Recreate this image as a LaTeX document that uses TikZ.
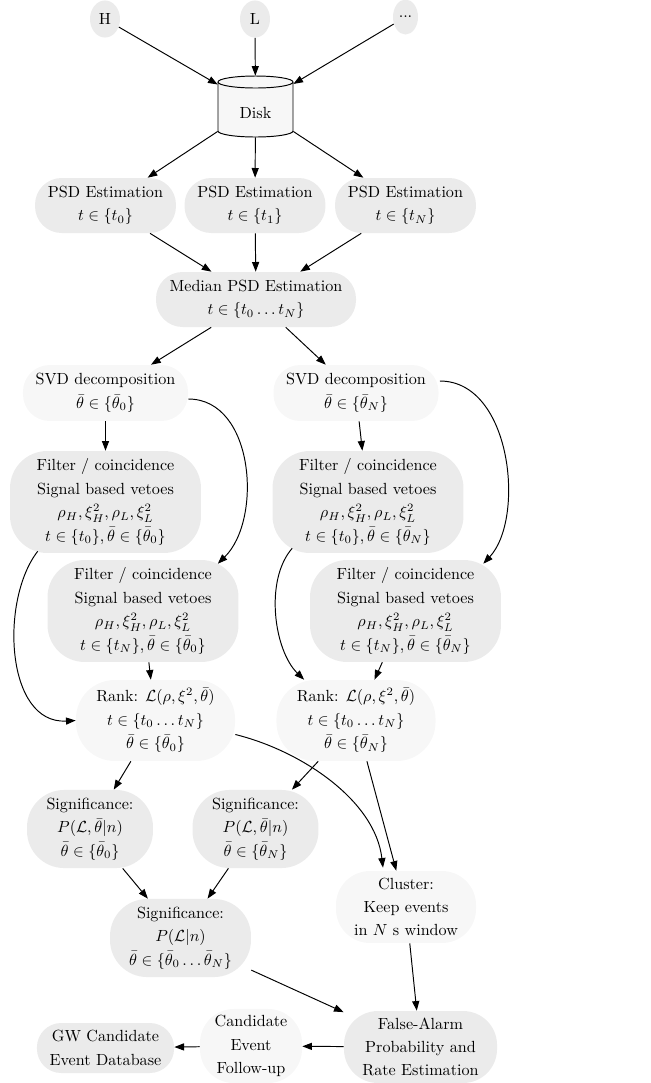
\documentclass[tikz,border=0pt]{standalone}
\usetikzlibrary{arrows.meta,shapes.geometric}
\definecolor{gfill}{HTML}{EBEBEB}
\definecolor{lfill}{HTML}{F7F7F7}
\begin{document}
\begin{tikzpicture}[x=0.62pt,y=0.62pt,
  font=\fontsize{10}{14.5}\selectfont,
  base/.style={inner sep=0pt,align=center},
  ell/.style={base,ellipse,fill=gfill,minimum width=18.6pt,minimum height=23pt},
  gbox/.style={base,rectangle,fill=gfill},
  lbox/.style={base,rectangle,fill=lfill},
  arr/.style={-{Triangle[length=6pt,width=4.4pt]},line width=0.6pt},
  psd/.style={gbox,minimum width=87.4pt,minimum height=34.1pt,rounded corners=16.5pt},
  svd/.style={lbox,minimum width=102.3pt,minimum height=34.7pt,rounded corners=16.5pt},
  filt/.style={gbox,minimum width=118.4pt,minimum height=63.2pt,rounded corners=23pt},
  rank/.style={lbox,minimum width=98.6pt,minimum height=50.2pt,rounded corners=24pt},
  sig/.style={gbox,minimum width=78.1pt,minimum height=48.4pt,rounded corners=23pt}
]
\useasboundingbox (0,0) rectangle (651,-1083);

% sources
\node[ell] (H) at (105,-19) {H};
\node[ell] (L) at (255,-19) {L};
\node[ell,minimum width=15.5pt,minimum height=21.7pt] (D) at (405.5,-17) {...};

% disk
\draw[line width=0.6pt,fill=lfill] (218,-82) -- (218,-131)
  arc[start angle=180,end angle=360,x radius=37.5,y radius=6] -- (293,-82)
  arc[start angle=0,end angle=180,x radius=37.5,y radius=6] -- cycle;
\draw[line width=0.6pt] (218,-82) arc[start angle=180,end angle=360,x radius=37.5,y radius=6];
\node[base,minimum width=46.5pt,minimum height=37.8pt,text height=14.8pt,text depth=0pt] (disk) at (255.5,-106.5) {Disk};

% PSD
\node[psd] (P0) at (105.5,-205.5) {PSD Estimation\\$t\in\{t_0\}$};
\node[psd] (P1) at (255,-205.5) {PSD Estimation\\$t\in\{t_1\}$};
\node[psd] (PN) at (405.5,-205.5) {PSD Estimation\\$t\in\{t_N\}$};
\node[psd,minimum width=124pt] (M) at (256,-299.5) {Median PSD Estimation\\$t\in\{t_0\ldots t_N\}$};

% SVD
\node[svd] (S0) at (105.5,-393) {SVD decomposition\\$\bar\theta\in\{\bar\theta_0\}$};
\node[svd] (SN) at (356,-393) {SVD decomposition\\$\bar\theta\in\{\bar\theta_N\}$};

% Filters
\node[filt] (F01) at (105.5,-502) {Filter / coincidence\\Signal based vetoes\\$\rho_H,\xi^2_H,\rho_L,\xi^2_L$\\$t\in\{t_0\},\bar\theta\in\{\bar\theta_0\}$};
\node[filt] (FN1) at (368,-502) {Filter / coincidence\\Signal based vetoes\\$\rho_H,\xi^2_H,\rho_L,\xi^2_L$\\$t\in\{t_0\},\bar\theta\in\{\bar\theta_N\}$};
\node[filt] (F0N) at (143,-611) {Filter / coincidence\\Signal based vetoes\\$\rho_H,\xi^2_H,\rho_L,\xi^2_L$\\$t\in\{t_N\},\bar\theta\in\{\bar\theta_0\}$};
\node[filt] (FNN) at (405.5,-611) {Filter / coincidence\\Signal based vetoes\\$\rho_H,\xi^2_H,\rho_L,\xi^2_L$\\$t\in\{t_N\},\bar\theta\in\{\bar\theta_N\}$};

% Rank
\node[rank] (R0) at (155.5,-720.5) {Rank: $\mathcal{L}(\rho,\xi^2,\bar\theta)$\\$t\in\{t_0\ldots t_N\}$\\$\bar\theta\in\{\bar\theta_0\}$};
\node[rank] (RN) at (356,-720.5) {Rank: $\mathcal{L}(\rho,\xi^2,\bar\theta)$\\$t\in\{t_0\ldots t_N\}$\\$\bar\theta\in\{\bar\theta_N\}$};

% Significance
\node[sig] (G0) at (90,-829) {Significance:\\$P(\mathcal{L},\bar\theta|n)$\\$\bar\theta\in\{\bar\theta_0\}$};
\node[sig] (GN) at (255.5,-829) {Significance:\\$P(\mathcal{L},\bar\theta|n)$\\$\bar\theta\in\{\bar\theta_N\}$};
\node[sig,minimum width=87.4pt] (GA) at (180.5,-938) {Significance:\\$P(\mathcal{L}|n)$\\$\bar\theta\in\{\bar\theta_0\ldots\bar\theta_N\}$};

% Cluster etc.
\node[lbox,minimum width=86.8pt,minimum height=44.6pt,rounded corners=21pt] (C) at (406,-907) {Cluster:\\Keep events\\in $N$ s window};
\node[gbox,minimum width=94.9pt,minimum height=44.6pt,rounded corners=21pt] (FA) at (420.5,-1047) {False-Alarm\\Probability and\\Rate Estimation};
\node[lbox,minimum width=63.2pt,minimum height=45.9pt,rounded corners=21pt] (CF) at (251,-1046) {Candidate\\Event\\Follow-up};
\node[gbox,minimum width=85pt,minimum height=31pt,rounded corners=15pt] (GW) at (105.5,-1048) {GW Candidate\\Event Database};

% edges
\draw[arr] (H) -- (disk);
\draw[arr] (L) -- (disk);
\draw[arr] (D) -- (disk);
\draw[arr] (disk) -- (P0);
\draw[arr] (disk) -- (P1);
\draw[arr] (disk) -- (PN);
\draw[arr] (P0) -- (M);
\draw[arr] (P1) -- (M);
\draw[arr] (PN) -- (M);
\draw[arr] (M) -- (S0);
\draw[arr] (M) -- (SN);
\draw[arr] (S0) -- (F01);
\draw[arr] (SN) -- (FN1);
\draw[arr] ([shift={(0,-6)}]S0.east) .. controls +(66,0) and +(45,44) .. ([shift={(-21,-4)}]F0N.north east);
\draw[arr] ([shift={(1,12)}]SN.east) .. controls +(72,0) and +(42,45) .. ([shift={(-18,-4)}]FNN.north east);
\draw[arr] ([shift={(28,2)}]F01.south west) .. controls +(-38,-49) and +(-70,-4) .. (R0.west);
\draw[arr] ([shift={(20,5)}]FN1.south west) .. controls +(-28,-32) and +(-30,29) .. ([shift={(28,0)}]RN.north west);
\draw[arr] (F0N) -- (R0);
\draw[arr] (FNN) -- (RN);
\draw[arr] (R0) -- (G0);
\draw[arr] (RN) -- (GN);
\draw[arr] ([shift={(0,-14)}]R0.east) .. controls +(65,-16) and +(-8,68) .. ([shift={(-23,3)}]C.north);
\draw[arr] (RN) -- (C);
\draw[arr] (G0) -- (GA);
\draw[arr] (GN) -- (GA);
\draw[arr] (GA) -- (FA);
\draw[arr] (C) -- (FA);
\draw[arr] (FA) -- (CF);
\draw[arr] (CF) -- (GW);
\end{tikzpicture}
\end{document}
